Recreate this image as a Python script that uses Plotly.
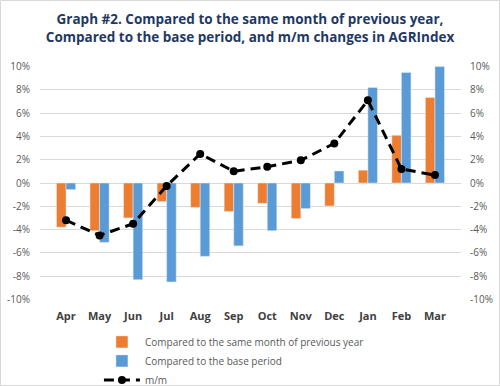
import plotly.graph_objects as go

months = ["Apr", "May", "Jun", "Jul", "Aug", "Sep", "Oct", "Nov", "Dec", "Jan", "Feb", "Mar"]
yoy = [-3.8, -4.1, -3.0, -1.6, -2.1, -2.45, -1.75, -3.05, -1.97, 1.1, 4.1, 7.35]
base = [-0.57, -5.1, -8.3, -8.5, -6.3, -5.4, -4.1, -2.2, 1.03, 8.2, 9.5, 10.0]
mm = [-3.2, -4.5, -3.5, -0.25, 2.5, 1.0, 1.4, 1.95, 3.4, 7.1, 1.2, 0.68]
tick_vals = [-10, -8, -6, -4, -2, 0, 2, 4, 6, 8, 10]
tick_text = [f"{v}%" for v in tick_vals]

W, H = 500, 386
L, R, T, B = 40, 39, 66, 86
pw, ph = W - L - R, H - T - B

fig = go.Figure()
fig.add_trace(go.Bar(x=months, y=yoy, name="Compared to the same month of previous year",
                     marker_color="#ED7D31"))
fig.add_trace(go.Bar(x=months, y=base, name="Compared to the base period",
                     marker_color="#5B9BD5"))
fig.add_trace(go.Scatter(x=months, y=mm, name="m/m", mode="lines+markers",
                         line=dict(color="black", width=3, dash="10px,6px"),
                         marker=dict(color="black", size=8)))
fig.add_trace(go.Scatter(x=months, y=mm, yaxis="y2", showlegend=False, mode="lines",
                         line=dict(width=0), hoverinfo="skip", opacity=0))

axfont = dict(family="Open Sans", size=10, color="#595959")
fig.update_layout(
    width=W, height=H,
    margin=dict(l=L, r=R, t=T, b=B, autoexpand=False),
    paper_bgcolor="white", plot_bgcolor="white",
    barmode="group", bargap=0.43, bargroupgap=0,
    title=dict(text="<b>Graph #2. Compared to the same month of previous year,<br>Compared to the base period, and m/m changes in AGRIndex</b>",
               x=0.5, xanchor="center", y=0.937, yanchor="top",
               font=dict(family="Open Sans", size=13.5, color="#1F3864")),
    xaxis=dict(showgrid=False, zeroline=False, showline=False, ticks="",
               tickfont=dict(family="Open Sans", size=11, color="#404040", weight="bold"),
               ticklabelstandoff=8, automargin=False),
    yaxis=dict(range=[-10.05, 10.05], tickvals=tick_vals, ticktext=tick_text,
               showgrid=True, gridcolor="#D9D9D9", gridwidth=1, zeroline=False,
               tickfont=axfont, ticks="", ticklabelstandoff=9, automargin=False),
    yaxis2=dict(range=[-10.05, 10.05], tickvals=tick_vals, ticktext=tick_text,
                overlaying="y", side="right", showgrid=False, zeroline=False,
                tickfont=axfont, ticks="", ticklabelstandoff=8, automargin=False),
    legend=dict(orientation="v", x=0.14, xanchor="left", y=-0.117, yanchor="top",
                font=dict(family="Open Sans", size=10, color="#595959"),
                tracegroupgap=0, itemwidth=36, bgcolor="rgba(0,0,0,0)"),
    showlegend=True,
    shapes=[dict(type="rect", xref="paper", yref="paper",
                 x0=-(L - 0.5) / pw, x1=1 + (R - 0.5) / pw,
                 y0=-(B - 0.5) / ph, y1=1 + (T - 0.5) / ph,
                 line=dict(color="#D9D9D9", width=1), layer="below")],
)
fig.write_html("out.html", config={"displayModeBar": False},
               post_script="document.body.style.margin='0';")
